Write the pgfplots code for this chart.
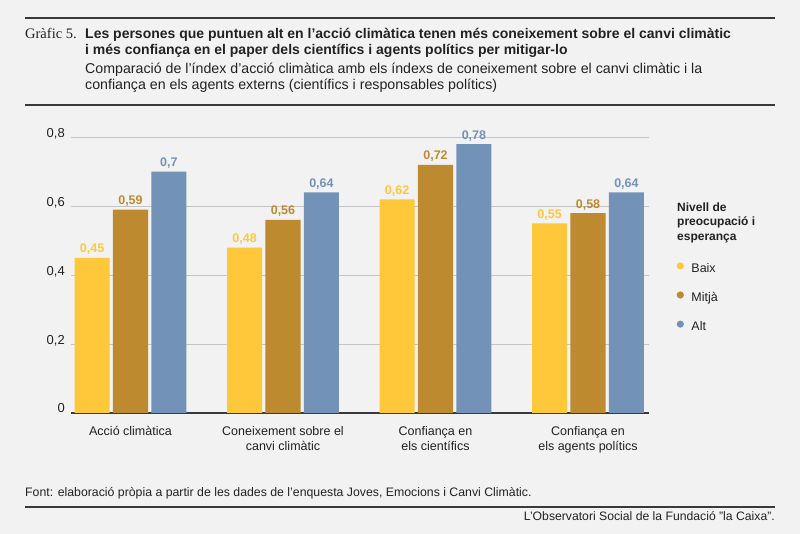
\documentclass[border=0pt]{standalone}
\usepackage{pgfplots}
\pgfplotsset{compat=1.18}
\usepackage{fontspec}
\setmainfont{Liberation Sans}
\newfontfamily\serifgr{Liberation Serif}
\definecolor{bg}{HTML}{F2F2F2}
\definecolor{cBaix}{HTML}{FFC73A}
\definecolor{cMitja}{HTML}{BE8A30}
\definecolor{cAlt}{HTML}{7392B8}
\definecolor{txt}{HTML}{222222}
\definecolor{rulec}{HTML}{3A3A3A}
\definecolor{gridc}{HTML}{C4C4C4}
\pgfkeys{/pgf/number format/.cd, use comma, assume math mode=true}
\begin{document}
\begin{tikzpicture}[x=1pt,y=1pt]
\fill[bg] (0,0) rectangle (800,534);
\useasboundingbox (0,0) rectangle (800,534);
% header
\draw[rulec, line width=2pt] (25,515.7) -- (775,515.7);
\draw[rulec, line width=2pt] (25,429) -- (775,429);
\node[anchor=base west, inner sep=0pt, text=txt, font=\serifgr\fontsize{14.5}{14.5}\selectfont] at (25,495.5) {Gràfic 5.};
\node[anchor=base west, inner sep=0pt, text=txt, font=\bfseries\fontsize{14}{14}\selectfont] at (85,495.5) {Les persones que puntuen alt en l’acció climàtica tenen més coneixement sobre el canvi climàtic};
\node[anchor=base west, inner sep=0pt, text=txt, font=\bfseries\fontsize{14}{14}\selectfont] at (85,479) {i més confiança en el paper dels científics i agents polítics per mitigar-lo};
\node[anchor=base west, inner sep=0pt, text=txt, font=\fontsize{14.2}{14.2}\selectfont] at (85,460.5) {Comparació de l’índex d’acció climàtica amb els índexs de coneixement sobre el canvi climàtic i la};
\node[anchor=base west, inner sep=0pt, text=txt, font=\fontsize{14.2}{14.2}\selectfont] at (85,444.5) {confiança en els agents externs (científics i responsables polítics)};
% footer
\node[anchor=base west, inner sep=0pt, text=txt, font=\fontsize{12.3}{12.3}\selectfont] at (25,37) {Font: elaboració pròpia a partir de les dades de l’enquesta Joves, Emocions i Canvi Climàtic.};
\draw[rulec, line width=2pt] (25,27.3) -- (775,27.3);
\node[anchor=base east, inner sep=0pt, text=txt, font=\fontsize{12.2}{12.2}\selectfont] at (775,13) {L’Observatori Social de la Fundació ”la Caixa”.};
% legend title
\node[anchor=base west, inner sep=0pt, align=left, text=txt, font=\bfseries\fontsize{12}{14.5}\selectfont] at (677,293.5) {Nivell de\\preocupació i\\esperança};
\begin{axis}[
  at={(71pt,121pt)}, anchor=south west,
  scale only axis, width=578pt, height=293pt,
  xmin=-0.39, xmax=3.4, ymin=0, ymax=0.85,
  ybar, bar width=0.23,
  axis x line*=bottom, axis y line*=left,
  x axis line style={draw=rulec, line width=1.4pt, -},
  y axis line style={draw=none},
  major tick length=0pt,
  ymajorgrids, grid style={draw=gridc, line width=0.8pt},
  ytick={0,0.2,0.4,0.6,0.8},
  yticklabel style={anchor=base east, inner sep=0pt, xshift=-6pt, text=txt, font=\fontsize{13}{13}\selectfont},
  xtick={0,1,2,3},
  xticklabels={Acció climàtica, {Coneixement sobre el\\canvi climàtic}, {Confiança en\\els científics}, {Confiança en\\els agents polítics}},
  xticklabel style={anchor=north, inner sep=0pt, yshift=-13pt, align=center, text=txt, font=\fontsize{12.5}{14.8}\selectfont},
  nodes near coords,
  every node near coord/.append style={font=\bfseries\fontsize{12.5}{12.5}\selectfont, yshift=-0.5pt},
  legend style={at={(axis description cs:1.0476,0.515)}, anchor=north west, draw=none, fill=none, inner sep=0pt,
    row sep=16pt, column sep=7.5pt, cells={anchor=base west},
    nodes={inner sep=0pt, text height=9pt, text depth=3pt, text=txt, font=\fontsize{12.5}{12.5}\selectfont}},
  legend cell align=left,
]
\addplot[fill=cBaix, draw=none, bar shift=-0.252, every node near coord/.append style={text=cBaix},
  legend image code/.code={\fill[cBaix] (3.5pt,3.5pt) circle (3.6pt);}]
  coordinates {(0,0.45) (1,0.48) (2,0.62) (3,0.55)};
\addlegendentry{Baix}
\addplot[fill=cMitja, draw=none, bar shift=0, every node near coord/.append style={text=cMitja},
  legend image code/.code={\fill[cMitja] (3.5pt,3.5pt) circle (3.6pt);}]
  coordinates {(0,0.59) (1,0.56) (2,0.72) (3,0.58)};
\addlegendentry{Mitjà}
\addplot[fill=cAlt, draw=none, bar shift=0.252, every node near coord/.append style={text=cAlt},
  legend image code/.code={\fill[cAlt] (3.5pt,3.5pt) circle (3.6pt);}]
  coordinates {(0,0.7) (1,0.64) (2,0.78) (3,0.64)};
\addlegendentry{Alt}
\end{axis}
\end{tikzpicture}
\end{document}
